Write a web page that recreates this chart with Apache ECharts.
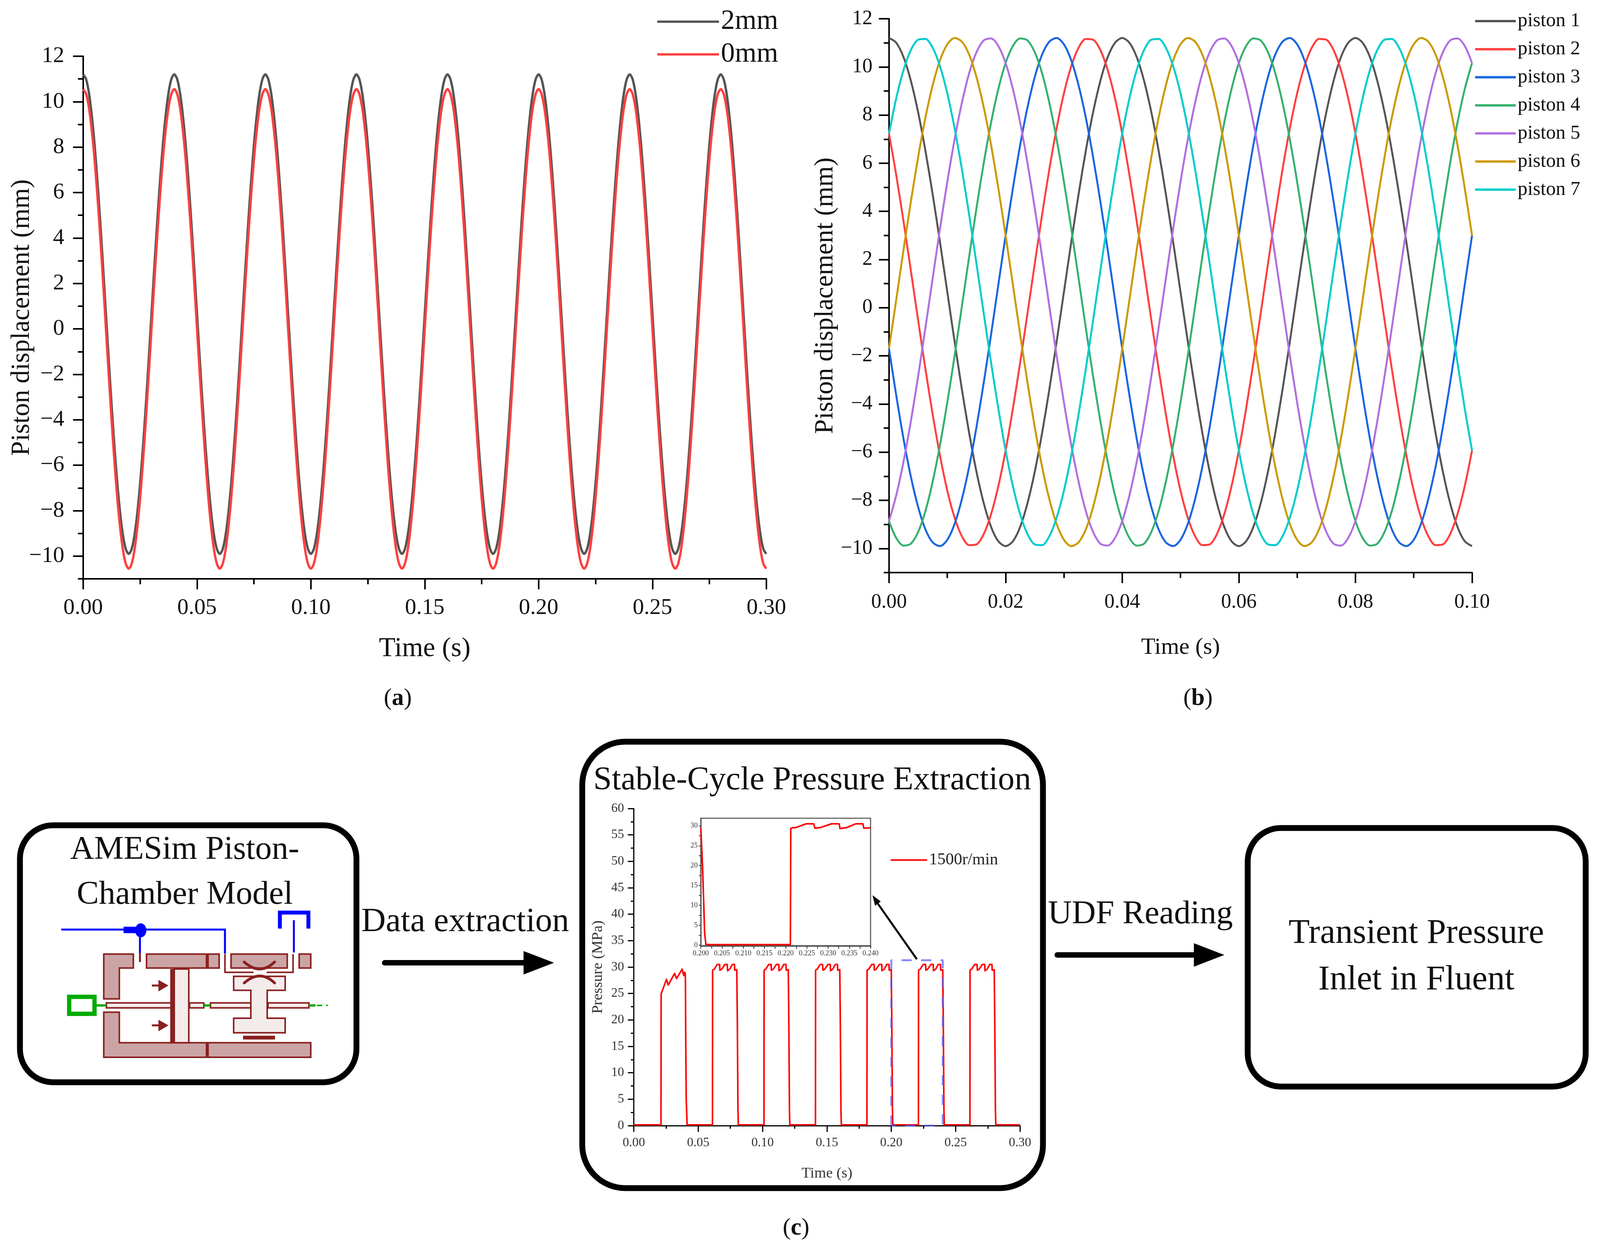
<!DOCTYPE html>
<html><head><meta charset="utf-8">
<style>html,body{margin:0;padding:0;background:#fff;overflow:hidden}#c{width:100vw;height:3203px}</style>
<script src="https://cdn.jsdelivr.net/npm/echarts@6/dist/echarts.min.js"></script>
</head><body><div id="c"></div>
<script>
// ---- panel (a) ----
const timeA=[0,0.00125,0.0025,0.00375,0.005,0.00625,0.0075,0.00875,0.01,0.01125,0.0125,0.01375,0.015,0.01625,0.0175,0.01875,
0.02,0.02125,0.0225,0.02375,0.025,0.02625,0.0275,0.02875,0.03,0.03125,0.0325,0.03375,0.035,0.03625,0.0375,0.03875,
0.04,0.04125,0.0425,0.04375,0.045,0.04625,0.0475,0.04875,0.05,0.05125,0.0525,0.05375,0.055,0.05625,0.0575,0.05875,
0.06,0.06125,0.0625,0.06375,0.065,0.06625,0.0675,0.06875,0.07,0.07125,0.0725,0.07375,0.075,0.07625,0.0775,0.07875,
0.08,0.08125,0.0825,0.08375,0.085,0.08625,0.0875,0.08875,0.09,0.09125,0.0925,0.09375,0.095,0.09625,0.0975,0.09875,
0.1,0.10125,0.1025,0.10375,0.105,0.10625,0.1075,0.10875,0.11,0.11125,0.1125,0.11375,0.115,0.11625,0.1175,0.11875,
0.12,0.12125,0.1225,0.12375,0.125,0.12625,0.1275,0.12875,0.13,0.13125,0.1325,0.13375,0.135,0.13625,0.1375,0.13875,
0.14,0.14125,0.1425,0.14375,0.145,0.14625,0.1475,0.14875,0.15,0.15125,0.1525,0.15375,0.155,0.15625,0.1575,0.15875,
0.16,0.16125,0.1625,0.16375,0.165,0.16625,0.1675,0.16875,0.17,0.17125,0.1725,0.17375,0.175,0.17625,0.1775,0.17875,
0.18,0.18125,0.1825,0.18375,0.185,0.18625,0.1875,0.18875,0.19,0.19125,0.1925,0.19375,0.195,0.19625,0.1975,0.19875,
0.2,0.20125,0.2025,0.20375,0.205,0.20625,0.2075,0.20875,0.21,0.21125,0.2125,0.21375,0.215,0.21625,0.2175,0.21875,
0.22,0.22125,0.2225,0.22375,0.225,0.22625,0.2275,0.22875,0.23,0.23125,0.2325,0.23375,0.235,0.23625,0.2375,0.23875,
0.24,0.24125,0.2425,0.24375,0.245,0.24625,0.2475,0.24875,0.25,0.25125,0.2525,0.25375,0.255,0.25625,0.2575,0.25875,
0.26,0.26125,0.2625,0.26375,0.265,0.26625,0.2675,0.26875,0.27,0.27125,0.2725,0.27375,0.275,0.27625,0.2775,0.27875,
0.28,0.28125,0.2825,0.28375,0.285,0.28625,0.2875,0.28875,0.29,0.29125,0.2925,0.29375,0.295,0.29625,0.2975,0.29875,0.3];
const disp2mm=[11.2,11,10.4,9.42,8.11,6.51,4.69,2.71,0.65,-1.41,-3.39,-5.21,-6.81,-8.12,-9.1,-9.7,-9.9,-9.7,-9.1,-8.12,-6.81,-5.21,-3.39,-1.41,0.65,2.71,4.69,6.51,8.11,9.42,10.4,11,
11.2,11,10.4,9.42,8.11,6.51,4.69,2.71,0.65,-1.41,-3.39,-5.21,-6.81,-8.12,-9.1,-9.7,-9.9,-9.7,-9.1,-8.12,-6.81,-5.21,-3.39,-1.41,0.65,2.71,4.69,6.51,8.11,9.42,10.4,11,
11.2,11,10.4,9.42,8.11,6.51,4.69,2.71,0.65,-1.41,-3.39,-5.21,-6.81,-8.12,-9.1,-9.7,-9.9,-9.7,-9.1,-8.12,-6.81,-5.21,-3.39,-1.41,0.65,2.71,4.69,6.51,8.11,9.42,10.4,11,
11.2,11,10.4,9.42,8.11,6.51,4.69,2.71,0.65,-1.41,-3.39,-5.21,-6.81,-8.12,-9.1,-9.7,-9.9,-9.7,-9.1,-8.12,-6.81,-5.21,-3.39,-1.41,0.65,2.71,4.69,6.51,8.11,9.42,10.4,11,
11.2,11,10.4,9.42,8.11,6.51,4.69,2.71,0.65,-1.41,-3.39,-5.21,-6.81,-8.12,-9.1,-9.7,-9.9,-9.7,-9.1,-8.12,-6.81,-5.21,-3.39,-1.41,0.65,2.71,4.69,6.51,8.11,9.42,10.4,11,
11.2,11,10.4,9.42,8.11,6.51,4.69,2.71,0.65,-1.41,-3.39,-5.21,-6.81,-8.12,-9.1,-9.7,-9.9,-9.7,-9.1,-8.12,-6.81,-5.21,-3.39,-1.41,0.65,2.71,4.69,6.51,8.11,9.42,10.4,11,
11.2,11,10.4,9.42,8.11,6.51,4.69,2.71,0.65,-1.41,-3.39,-5.21,-6.81,-8.12,-9.1,-9.7,-9.9,-9.7,-9.1,-8.12,-6.81,-5.21,-3.39,-1.41,0.65,2.71,4.69,6.51,8.11,9.42,10.4,11,
11.2,11,10.4,9.42,8.11,6.51,4.69,2.71,0.65,-1.41,-3.39,-5.21,-6.81,-8.12,-9.1,-9.7,-9.9];
const disp0mm=[10.55,10.35,9.75,8.77,7.46,5.86,4.04,2.06,0,-2.06,-4.04,-5.86,-7.46,-8.77,-9.75,-10.35,-10.55,-10.35,-9.75,-8.77,-7.46,-5.86,-4.04,-2.06,0,2.06,4.04,5.86,7.46,8.77,9.75,10.35,
10.55,10.35,9.75,8.77,7.46,5.86,4.04,2.06,0,-2.06,-4.04,-5.86,-7.46,-8.77,-9.75,-10.35,-10.55,-10.35,-9.75,-8.77,-7.46,-5.86,-4.04,-2.06,0,2.06,4.04,5.86,7.46,8.77,9.75,10.35,
10.55,10.35,9.75,8.77,7.46,5.86,4.04,2.06,0,-2.06,-4.04,-5.86,-7.46,-8.77,-9.75,-10.35,-10.55,-10.35,-9.75,-8.77,-7.46,-5.86,-4.04,-2.06,0,2.06,4.04,5.86,7.46,8.77,9.75,10.35,
10.55,10.35,9.75,8.77,7.46,5.86,4.04,2.06,0,-2.06,-4.04,-5.86,-7.46,-8.77,-9.75,-10.35,-10.55,-10.35,-9.75,-8.77,-7.46,-5.86,-4.04,-2.06,0,2.06,4.04,5.86,7.46,8.77,9.75,10.35,
10.55,10.35,9.75,8.77,7.46,5.86,4.04,2.06,0,-2.06,-4.04,-5.86,-7.46,-8.77,-9.75,-10.35,-10.55,-10.35,-9.75,-8.77,-7.46,-5.86,-4.04,-2.06,0,2.06,4.04,5.86,7.46,8.77,9.75,10.35,
10.55,10.35,9.75,8.77,7.46,5.86,4.04,2.06,0,-2.06,-4.04,-5.86,-7.46,-8.77,-9.75,-10.35,-10.55,-10.35,-9.75,-8.77,-7.46,-5.86,-4.04,-2.06,0,2.06,4.04,5.86,7.46,8.77,9.75,10.35,
10.55,10.35,9.75,8.77,7.46,5.86,4.04,2.06,0,-2.06,-4.04,-5.86,-7.46,-8.77,-9.75,-10.35,-10.55,-10.35,-9.75,-8.77,-7.46,-5.86,-4.04,-2.06,0,2.06,4.04,5.86,7.46,8.77,9.75,10.35,
10.55,10.35,9.75,8.77,7.46,5.86,4.04,2.06,0,-2.06,-4.04,-5.86,-7.46,-8.77,-9.75,-10.35,-10.55];
// ---- panel (b) ----
const timeB=[0,0.00125,0.0025,0.00375,0.005,0.00625,0.0075,0.00875,0.01,0.01125,0.0125,0.01375,0.015,0.01625,0.0175,0.01875,
0.02,0.02125,0.0225,0.02375,0.025,0.02625,0.0275,0.02875,0.03,0.03125,0.0325,0.03375,0.035,0.03625,0.0375,0.03875,
0.04,0.04125,0.0425,0.04375,0.045,0.04625,0.0475,0.04875,0.05,0.05125,0.0525,0.05375,0.055,0.05625,0.0575,0.05875,
0.06,0.06125,0.0625,0.06375,0.065,0.06625,0.0675,0.06875,0.07,0.07125,0.0725,0.07375,0.075,0.07625,0.0775,0.07875,
0.08,0.08125,0.0825,0.08375,0.085,0.08625,0.0875,0.08875,0.09,0.09125,0.0925,0.09375,0.095,0.09625,0.0975,0.09875,0.1];
const piston1=[11.2,11,10.4,9.42,8.11,6.51,4.69,2.71,0.65,-1.41,-3.39,-5.21,-6.81,-8.12,-9.1,-9.7,-9.9,-9.7,-9.1,-8.12,-6.81,-5.21,-3.39,-1.41,0.65,2.71,4.69,6.51,8.11,9.42,10.4,11,
11.2,11,10.4,9.42,8.11,6.51,4.69,2.71,0.65,-1.41,-3.39,-5.21,-6.81,-8.12,-9.1,-9.7,-9.9,-9.7,-9.1,-8.12,-6.81,-5.21,-3.39,-1.41,0.65,2.71,4.69,6.51,8.11,9.42,10.4,11,
11.2,11,10.4,9.42,8.11,6.51,4.69,2.71,0.65,-1.41,-3.39,-5.21,-6.81,-8.12,-9.1,-9.7,-9.9];
const piston2=[7.23,5.49,3.57,1.54,-0.53,-2.55,-4.45,-6.15,-7.6,-8.72,-9.49,-9.86,-9.83,-9.4,-8.58,-7.41,-5.93,-4.19,-2.27,-0.24,1.83,3.85,5.75,7.45,8.9,10.02,10.79,11.16,11.13,10.7,9.88,8.71,
7.23,5.49,3.57,1.54,-0.53,-2.55,-4.45,-6.15,-7.6,-8.72,-9.49,-9.86,-9.83,-9.4,-8.58,-7.41,-5.93,-4.19,-2.27,-0.24,1.83,3.85,5.75,7.45,8.9,10.02,10.79,11.16,11.13,10.7,9.88,8.71,
7.23,5.49,3.57,1.54,-0.53,-2.55,-4.45,-6.15,-7.6,-8.72,-9.49,-9.86,-9.83,-9.4,-8.58,-7.41,-5.93];
const piston3=[-1.7,-3.66,-5.46,-7.02,-8.28,-9.21,-9.75,-9.9,-9.64,-8.98,-7.95,-6.6,-4.96,-3.11,-1.12,0.95,3,4.96,6.76,8.32,9.58,10.51,11.05,11.2,10.94,10.28,9.25,7.9,6.26,4.41,2.42,0.35,
-1.7,-3.66,-5.46,-7.02,-8.28,-9.21,-9.75,-9.9,-9.64,-8.98,-7.95,-6.6,-4.96,-3.11,-1.12,0.95,3,4.96,6.76,8.32,9.58,10.51,11.05,11.2,10.94,10.28,9.25,7.9,6.26,4.41,2.42,0.35,
-1.7,-3.66,-5.46,-7.02,-8.28,-9.21,-9.75,-9.9,-9.64,-8.98,-7.95,-6.6,-4.96,-3.11,-1.12,0.95,3];
const piston4=[-8.86,-9.57,-9.88,-9.8,-9.31,-8.44,-7.21,-5.69,-3.93,-1.99,0.06,2.13,4.13,6.01,7.68,9.08,10.16,10.87,11.18,11.1,10.61,9.74,8.51,6.99,5.23,3.29,1.24,-0.83,-2.84,-4.71,-6.38,-7.78,
-8.86,-9.57,-9.88,-9.8,-9.31,-8.44,-7.21,-5.69,-3.93,-1.99,0.06,2.13,4.13,6.01,7.68,9.08,10.16,10.87,11.18,11.1,10.61,9.74,8.51,6.99,5.23,3.29,1.24,-0.83,-2.84,-4.71,-6.38,-7.78,
-8.86,-9.57,-9.88,-9.8,-9.31,-8.44,-7.21,-5.69,-3.93,-1.99,0.06,2.13,4.13,6.01,7.68,9.08,10.16];
const piston5=[-8.86,-7.78,-6.38,-4.71,-2.84,-0.83,1.24,3.29,5.23,6.99,8.51,9.74,10.61,11.1,11.18,10.87,10.16,9.08,7.68,6.01,4.13,2.13,0.06,-1.99,-3.93,-5.69,-7.21,-8.44,-9.31,-9.8,-9.88,-9.57,
-8.86,-7.78,-6.38,-4.71,-2.84,-0.83,1.24,3.29,5.23,6.99,8.51,9.74,10.61,11.1,11.18,10.87,10.16,9.08,7.68,6.01,4.13,2.13,0.06,-1.99,-3.93,-5.69,-7.21,-8.44,-9.31,-9.8,-9.88,-9.57,
-8.86,-7.78,-6.38,-4.71,-2.84,-0.83,1.24,3.29,5.23,6.99,8.51,9.74,10.61,11.1,11.18,10.87,10.16];
const piston6=[-1.7,0.35,2.42,4.41,6.26,7.9,9.25,10.28,10.94,11.2,11.05,10.51,9.58,8.32,6.76,4.96,3,0.95,-1.12,-3.11,-4.96,-6.6,-7.95,-8.98,-9.64,-9.9,-9.75,-9.21,-8.28,-7.02,-5.46,-3.66,
-1.7,0.35,2.42,4.41,6.26,7.9,9.25,10.28,10.94,11.2,11.05,10.51,9.58,8.32,6.76,4.96,3,0.95,-1.12,-3.11,-4.96,-6.6,-7.95,-8.98,-9.64,-9.9,-9.75,-9.21,-8.28,-7.02,-5.46,-3.66,
-1.7,0.35,2.42,4.41,6.26,7.9,9.25,10.28,10.94,11.2,11.05,10.51,9.58,8.32,6.76,4.96,3];
const piston7=[7.23,8.71,9.88,10.7,11.13,11.16,10.79,10.02,8.9,7.45,5.75,3.85,1.83,-0.24,-2.27,-4.19,-5.93,-7.41,-8.58,-9.4,-9.83,-9.86,-9.49,-8.72,-7.6,-6.15,-4.45,-2.55,-0.53,1.54,3.57,5.49,
7.23,8.71,9.88,10.7,11.13,11.16,10.79,10.02,8.9,7.45,5.75,3.85,1.83,-0.24,-2.27,-4.19,-5.93,-7.41,-8.58,-9.4,-9.83,-9.86,-9.49,-8.72,-7.6,-6.15,-4.45,-2.55,-0.53,1.54,3.57,5.49,
7.23,8.71,9.88,10.7,11.13,11.16,10.79,10.02,8.9,7.45,5.75,3.85,1.83,-0.24,-2.27,-4.19,-5.93];
const pistonNames=['piston 1','piston 2','piston 3','piston 4','piston 5','piston 6','piston 7'];
const pistonColors=['#555555','#ff4040','#1a66e0','#35b070','#b070e0','#cc9900','#00cccc'];
// ---- panel (c) ----
const pressureTime=[0,0.0211,0.0212,0.0254,0.0267,0.0317,0.0332,0.0375,0.0388,0.0392,0.0399,0.0401,0.0403,0.0407,0.0414,
0.0611,0.0612,0.0615,0.0625,0.0648,0.0666,0.0669,0.0683,0.0708,0.0726,0.0728,0.0745,0.0765,0.0782,0.0784,0.08,0.0804,0.0807,0.0809,0.0812,
0.1011,0.1012,0.1015,0.1025,0.1048,0.1066,0.1069,0.1083,0.1108,0.1126,0.1128,0.1145,0.1165,0.1182,0.1184,0.12,0.1204,0.1207,0.1209,0.1212,
0.1411,0.1412,0.1415,0.1425,0.1448,0.1466,0.1469,0.1483,0.1508,0.1526,0.1528,0.1545,0.1565,0.1582,0.1584,0.16,0.1604,0.1607,0.1609,0.1612,
0.1811,0.1812,0.1815,0.1825,0.1848,0.1866,0.1869,0.1883,0.1908,0.1926,0.1928,0.1945,0.1965,0.1982,0.1984,0.2,0.2004,0.2007,0.2009,0.2012,
0.2211,0.2212,0.2215,0.2225,0.2248,0.2266,0.2269,0.2283,0.2308,0.2326,0.2328,0.2345,0.2365,0.2382,0.2384,0.24,0.2404,0.2407,0.2409,0.2412,
0.2611,0.2612,0.2615,0.2625,0.2648,0.2666,0.2669,0.2683,0.2708,0.2726,0.2728,0.2745,0.2765,0.2782,0.2784,0.28,0.2804,0.2807,0.2809,0.2812,0.3];
const pressureValue=[0.15,0.15,24.9,27.7,26.6,28.8,27.8,29.6,28.4,29,28.9,27.2,17.7,5,0.15,
0.15,29.3,29.5,29.6,30.5,30.5,29.4,29.6,30.5,30.5,29.3,29.6,30.5,30.5,29.4,29.5,20,10,3,0.15,
0.15,29.3,29.5,29.6,30.5,30.5,29.4,29.6,30.5,30.5,29.3,29.6,30.5,30.5,29.4,29.5,20,10,3,0.15,
0.15,29.3,29.5,29.6,30.5,30.5,29.4,29.6,30.5,30.5,29.3,29.6,30.5,30.5,29.4,29.5,20,10,3,0.15,
0.15,29.3,29.5,29.6,30.5,30.5,29.4,29.6,30.5,30.5,29.3,29.6,30.5,30.5,29.4,29.5,20,10,3,0.15,
0.15,29.3,29.5,29.6,30.5,30.5,29.4,29.6,30.5,30.5,29.3,29.6,30.5,30.5,29.4,29.5,20,10,3,0.15,
0.15,29.3,29.5,29.6,30.5,30.5,29.4,29.6,30.5,30.5,29.3,29.6,30.5,30.5,29.4,29.5,20,10,3,0.15,0.15];
const zoomBoxTime=[0.2,0.2,0.24,0.24,0.2];
const zoomBoxValue=[0,31.3,31.3,0,0];
// tick values
const dispMajor=[-10,-8,-6,-4,-2,0,2,4,6,8,10,12];
const insetXMajor=[0.2,0.205,0.21,0.215,0.22,0.225,0.23,0.235,0.24];
const insetXTicks=[0.2,0.2025,0.205,0.2075,0.21,0.2125,0.215,0.2175,0.22,0.2225,0.225,0.2275,0.23,0.2325,0.235,0.2375,0.24];
const insetYMajor=[0,5,10,15,20,25,30];
const insetYTicks=[0,2.5,5,7.5,10,12.5,15,17.5,20,22.5,25,27.5,30];

// The design is 4251 wide; the actual window may be narrower, so x positions and type follow it.
const k=Math.min(window.innerWidth,4251)/4251;
const X=x=>x*k, F=s=>s*k;
const FF='"Liberation Serif","Times New Roman",serif';
const zip=(t,v)=>t.map((x,i)=>[x,v[i]]);
const minus=v=>String(v).replace('-','\u2212');

function xAxisOf(gi,min,max,iv,fs,name,gap,nf,lm,tw,tl,ml,col){return{
  type:'value',gridIndex:gi,min,max,interval:iv,splitLine:{show:false},name,nameLocation:'middle',nameGap:gap,nameMoveOverlap:false,
  nameTextStyle:{fontFamily:FF,fontSize:F(nf),color:col},
  axisLine:{onZero:false,lineStyle:{color:'#000',width:tw}},
  axisTick:{length:tl,lineStyle:{color:'#000',width:tw}},
  minorTick:{show:true,splitNumber:2,length:ml,lineStyle:{color:'#000',width:tw}},
  axisLabel:{margin:lm,fontFamily:FF,fontSize:F(fs),color:col,showMinLabel:true,showMaxLabel:true,hideOverlap:false,formatter:v=>v.toFixed(2)}
};}
function dispY(gi,fs,name,gap,nf,lm){return{
  type:'value',gridIndex:gi,min:-11,max:12,splitLine:{show:false},name,nameLocation:'middle',nameGap:X(gap),nameMoveOverlap:false,
  nameTextStyle:{fontFamily:FF,fontSize:F(nf),color:'#111'},
  axisLine:{onZero:false,lineStyle:{color:'#000',width:4}},
  axisTick:{customValues:dispMajor,length:X(27),lineStyle:{color:'#000',width:4}},
  axisLabel:{customValues:dispMajor,margin:X(lm),fontFamily:FF,fontSize:F(fs),color:'#111',formatter:minus}
};}
function dispYMinor(gi){return{
  type:'value',gridIndex:gi,min:-11,max:12,interval:1,position:'left',splitLine:{show:false},
  axisLine:{show:false,onZero:false},axisLabel:{show:false},
  axisTick:{length:X(14),lineStyle:{color:'#000',width:4}}
};}
const lineOf=(color,width)=>({color,width,join:'round'});

const option={
  animation:false,backgroundColor:'#fff',
  grid:[
    {left:X(221),top:144,width:X(1815),height:1338},
    {left:X(2362),top:48,width:X(1549),height:1418},
    {left:X(1684),top:2070,width:X(1026),height:812,show:true,borderColor:'#777',borderWidth:3},
    {left:X(1862),top:2095,width:X(451),height:327,show:true,borderColor:'#666',borderWidth:3,backgroundColor:'#fff',z:5}
  ],
  xAxis:[
    xAxisOf(0,0,0.3,0.05,60,'Time (s)',145,72,46,4,27,14,'#111'),
    xAxisOf(1,0,0.1,0.02,54,'Time (s)',162,62,50,4,27,14,'#111'),
    xAxisOf(2,0,0.3,0.05,34,'Time (s)',103,40,28,3,16,8,'#333'),
    {type:'value',gridIndex:3,min:0.2,max:0.24,splitLine:{show:false},z:6,
      axisLine:{onZero:false,lineStyle:{color:'#555',width:4}},
      axisTick:{customValues:insetXTicks,length:7,lineStyle:{color:'#333',width:2}},
      axisLabel:{customValues:insetXMajor,margin:10,fontFamily:FF,fontSize:F(19),color:'#333',formatter:v=>v.toFixed(3)}}
  ],
  yAxis:[
    dispY(0,60,'Piston displacement (mm)',128,70,50),
    dispYMinor(0),
    dispY(1,54,'Piston displacement (mm)',134,70,44),
    dispYMinor(1),
    {type:'value',gridIndex:2,min:0,max:60,interval:5,splitLine:{show:false},name:'Pressure (MPa)',nameLocation:'middle',nameGap:X(75),nameMoveOverlap:false,
      nameTextStyle:{fontFamily:FF,fontSize:F(40),color:'#333'},
      axisLine:{onZero:false,lineStyle:{color:'#000',width:3}},
      axisTick:{length:X(16),lineStyle:{color:'#000',width:3}},
      minorTick:{show:true,splitNumber:2,length:X(8),lineStyle:{color:'#000',width:3}},
      axisLabel:{margin:X(26),fontFamily:FF,fontSize:F(34),color:'#333'}},
    {type:'value',gridIndex:3,min:-0.2,max:31.9,splitLine:{show:false},z:6,
      axisLine:{onZero:false,lineStyle:{color:'#555',width:3}},
      axisTick:{customValues:insetYTicks,length:5,lineStyle:{color:'#333',width:2}},
      axisLabel:{customValues:insetYMajor,margin:8,fontFamily:FF,fontSize:F(19),color:'#333'}}
  ],
  legend:[
    {left:X(1741),top:15,orient:'vertical',icon:'rect',itemWidth:X(164),itemHeight:6,itemGap:85-F(74)-1,selectedMode:false,data:['2mm','0mm'],
      textStyle:{fontFamily:FF,fontSize:F(74),color:'#111'}},
    {left:X(3914),top:24,orient:'vertical',icon:'rect',itemWidth:X(108),itemHeight:6,itemGap:73-F(52)-1,selectedMode:false,data:pistonNames,
      textStyle:{fontFamily:FF,fontSize:F(52),color:'#111'}},
    {left:X(2361),top:2176,orient:'vertical',icon:'rect',itemWidth:X(97),itemHeight:4,selectedMode:false,data:['1500r/min'],
      textStyle:{fontFamily:FF,fontSize:F(44),color:'#222'}}
  ],
  series:[
    {name:'2mm',type:'line',xAxisIndex:0,yAxisIndex:0,data:zip(timeA,disp2mm),smooth:0.3,showSymbol:false,symbol:'none',lineStyle:lineOf('#555555',6),itemStyle:{color:'#555555'}},
    {name:'0mm',type:'line',xAxisIndex:0,yAxisIndex:0,data:zip(timeA,disp0mm),smooth:0.3,showSymbol:false,symbol:'none',lineStyle:lineOf('#ff4040',6),itemStyle:{color:'#ff4040'}},
    ...[piston1,piston2,piston3,piston4,piston5,piston6,piston7].map((v,i)=>({
      name:pistonNames[i],type:'line',xAxisIndex:1,yAxisIndex:2,data:zip(timeB,v),smooth:0.3,showSymbol:false,symbol:'none',
      lineStyle:lineOf(pistonColors[i],5),itemStyle:{color:pistonColors[i]}})),
    {name:'1500r/min',type:'line',xAxisIndex:2,yAxisIndex:4,data:zip(pressureTime,pressureValue),showSymbol:false,symbol:'none',lineStyle:lineOf('#ff0000',4),itemStyle:{color:'#ff0000'}},
    {name:'zoom window',type:'line',xAxisIndex:2,yAxisIndex:4,data:zip(zoomBoxTime,zoomBoxValue),showSymbol:false,symbol:'none',z:3,lineStyle:{color:'rgba(90,90,250,0.7)',width:5,type:[26,24]}},
    {name:'inset',type:'line',xAxisIndex:3,yAxisIndex:5,data:zip(pressureTime,pressureValue).filter(p=>p[0]>=0.2&&p[0]<=0.24),showSymbol:false,symbol:'none',z:7,lineStyle:lineOf('#ff0000',4)}
  ]
};

// ---- drawn annotations: boxes, arrows, captions, AMESim schematic ----
const g=[];
const box=(x,y,w,h,r,lw)=>g.push({type:'rect',z:0,shape:{x:X(x),y,width:X(w),height:h,r},style:{fill:'#fff',stroke:'#000',lineWidth:lw}});
const text=(t,x,y,fs)=>g.push({type:'text',z:20,x:X(x),y,style:{text:t,fontFamily:FF,fontSize:F(fs),fill:'#111',align:'center',verticalAlign:'middle'}});
const arrow=(x1,x2,y,hx,lw,hh)=>{
  g.push({type:'line',z:20,shape:{x1:X(x1),y1:y,x2:X(hx),y2:y},style:{stroke:'#000',lineWidth:lw,lineCap:'round'}});
  g.push({type:'polygon',z:20,shape:{points:[[X(hx),y-hh],[X(x2),y],[X(hx),y+hh]]},style:{fill:'#000'}});
};
box(53,2113,894,658,85,15);
box(1547,1899,1224,1143,110,15);
box(3315,2120,898,662,85,15);
text('AMESim Piston-',491,2177,88);
text('Chamber Model',491,2292,88);
text('Stable-Cycle Pressure Extraction',2158,1999,88);
text('Data extraction',1236,2361,90);
text('UDF Reading',3030,2342,88);
text('Transient Pressure',3763,2391,92);
text('Inlet in Fluent',3763,2510,92);
arrow(1022,1472,2465,1391,14,30);
arrow(2809,3253,2445,3172,14,30);
const caption=(l,x,y)=>g.push({type:'text',z:20,x:X(x),y,style:{text:'({b|'+l+'})',fontFamily:FF,fontSize:F(64),fill:'#111',align:'center',verticalAlign:'middle',
  rich:{b:{fontFamily:FF,fontSize:F(64),fontWeight:'bold',fill:'#111'}}}});
caption('a',1057,1789);caption('b',3183,1789);caption('c',2115,3145);
// inset pointer arrow
g.push({type:'line',z:20,shape:{x1:X(2436),y1:2456,x2:X(2326),y2:2305},style:{stroke:'#000',lineWidth:5}});
g.push({type:'polygon',z:20,shape:{points:[[X(2318),2292],[X(2340),2308],[X(2325),2319]]},style:{fill:'#000'}});
// schematic
const SX=x=>X(x*0.7015), SY=y=>2050+y*0.51;
const P=a=>a.map(p=>[SX(p[0]),SY(p[1])]);
const DK='#8a2020',LT='#cba5a5',PL='#f4eceb',BL='#0000ff',GR='#00aa00';
const poly=(pts,fill,lw)=>g.push({type:'polygon',z:15,shape:{points:P(pts)},style:{fill:fill,stroke:DK,lineWidth:lw||4}});
const rc=(x1,y1,x2,y2,fill,lw)=>poly([[x1,y1],[x2,y1],[x2,y2],[x1,y2]],fill,lw);
const pl=(pts,col,lw,dash)=>g.push({type:'polyline',z:16,shape:{points:P(pts)},style:{fill:null,stroke:col,lineWidth:lw,lineDash:dash||null}});
poly([[393,770],[505,770],[505,840],[452,840],[452,995],[393,995]],LT);
rc(555,770,830,840,LT);rc(875,770,1088,840,LT);rc(1133,770,1177,840,LT);
poly([[393,1062],[452,1062],[452,1215],[1177,1215],[1177,1288],[393,1288]],LT);
pl([[785,770],[785,840]],DK,8);pl([[785,1215],[785,1288]],DK,8);
pl([[530,765],[530,810]],DK,5);
rc(660,845,715,1215,PL);pl([[652,845],[652,1215]],DK,10);
pl([[575,928],[610,928]],DK,5);pl([[575,1128],[610,1128]],DK,5);
g.push({type:'polygon',z:16,shape:{points:P([[600,900],[638,928],[600,958]])},style:{fill:DK}});
g.push({type:'polygon',z:16,shape:{points:P([[600,1100],[638,1128],[600,1158]])},style:{fill:DK}});
rc(403,1015,655,1040,PL);rc(718,1015,772,1040,PL);rc(797,1015,950,1040,PL);rc(1015,1015,1170,1040,PL);
poly([[885,882],[1080,882],[1080,952],[1012,952],[1012,1092],[1080,1092],[1080,1165],[885,1165],[885,1092],[950,1092],[950,952],[885,952]],PL);
rc(922,1182,1040,1197,DK,2);
pl([[852,770],[852,862],[960,862]],DK,4);pl([[1010,862],[1110,862],[1110,770]],DK,4);
const curve=(x1,y1,cx,cy,x2,y2)=>g.push({type:'bezierCurve',z:16,shape:{x1:SX(x1),y1:SY(y1),x2:SX(x2),y2:SY(y2),cpx1:SX(cx),cpy1:SY(cy)},style:{fill:null,stroke:DK,lineWidth:7,lineCap:'round'}});
curve(925,810,985,880,1040,810);curve(925,915,985,845,1040,915);
pl([[232,647],[852,647],[852,768]],BL,5);
pl([[530,650],[530,765]],BL,5);
pl([[1113,600],[1113,762]],BL,5);
pl([[1060,642],[1060,562],[1168,562],[1168,642]],BL,10);
g.push({type:'rect',z:16,shape:{x:SX(468),y:SY(633),width:SX(62),height:32*0.51},style:{fill:BL}});
g.push({type:'ellipse',z:16,shape:{cx:SX(533),cy:SY(651),rx:X(15),ry:18},style:{fill:BL}});
g.push({type:'rect',z:16,shape:{x:SX(262),y:SY(985),width:SX(96),height:85*0.51},style:{fill:'#fff',stroke:GR,lineWidth:11}});
pl([[358,1028],[403,1028]],GR,6);pl([[772,1028],[797,1028]],GR,6);pl([[1170,1028],[1195,1028]],GR,6);
pl([[1200,1028],[1248,1028]],GR,4,[14,10,4,10]);
option.graphic={elements:g};

const chart=echarts.init(document.getElementById('c'),null,{renderer:'canvas'});
chart.setOption(option);
</script></body></html>
